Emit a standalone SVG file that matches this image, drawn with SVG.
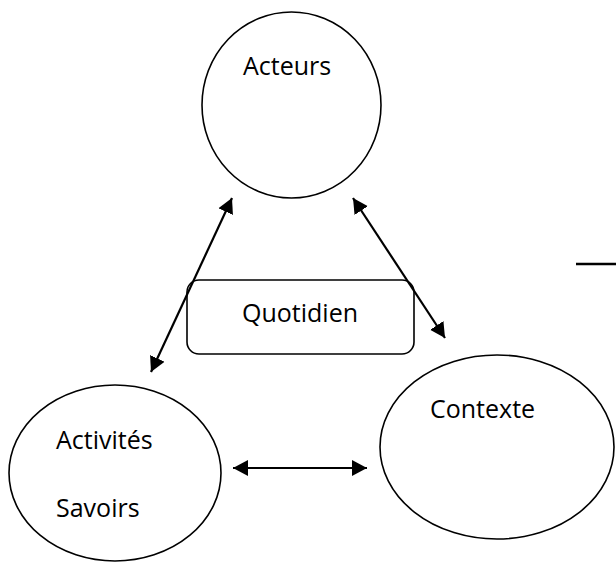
<svg xmlns="http://www.w3.org/2000/svg" width="616" height="569" viewBox="0 0 616 569">
<style>
.shape{fill:#fff;stroke:#000;stroke-width:1.6}
.lbl{font-family:"Open Sans","Liberation Sans",sans-serif;font-size:25px;fill:#000}
.conn{stroke:#000;stroke-width:2.2;fill:none}
</style>
<defs>
<marker id="ah" markerUnits="userSpaceOnUse" markerWidth="17" markerHeight="17" refX="15" refY="8" orient="auto-start-reverse" viewBox="0 0 17 16">
<path d="M0,0 L15,8 L0,16 Z" fill="#000"/>
</marker>
</defs>
<rect width="616" height="569" fill="#fff"/>
<g id="acteurs">
<ellipse class="shape" cx="291.5" cy="105" rx="89.5" ry="93"/>
<text class="lbl" x="243" y="75">Acteurs</text>
</g>
<g id="quotidien">
<rect class="shape" x="187" y="280" width="227" height="74" rx="12"/>
<text class="lbl" x="242" y="322">Quotidien</text>
</g>
<g id="activites">
<ellipse class="shape" cx="115" cy="473" rx="106" ry="88"/>
<text class="lbl" x="56" y="449">Activités</text>
<text class="lbl" x="56" y="517">Savoirs</text>
</g>
<g id="contexte">
<ellipse class="shape" cx="497" cy="447" rx="117" ry="92"/>
<text class="lbl" x="430" y="418">Contexte</text>
</g>
<g id="stray">
<line x1="576" y1="264" x2="616" y2="264" stroke="#000" stroke-width="2.5"/>
</g>
<g id="connectors">
<line class="conn" x1="232" y1="198" x2="151" y2="372" marker-start="url(#ah)" marker-end="url(#ah)"/>
<line class="conn" x1="353" y1="198" x2="445" y2="338" marker-start="url(#ah)" marker-end="url(#ah)"/>
<line class="conn" x1="233" y1="468" x2="367" y2="468" marker-start="url(#ah)" marker-end="url(#ah)"/>
</g>
</svg>
